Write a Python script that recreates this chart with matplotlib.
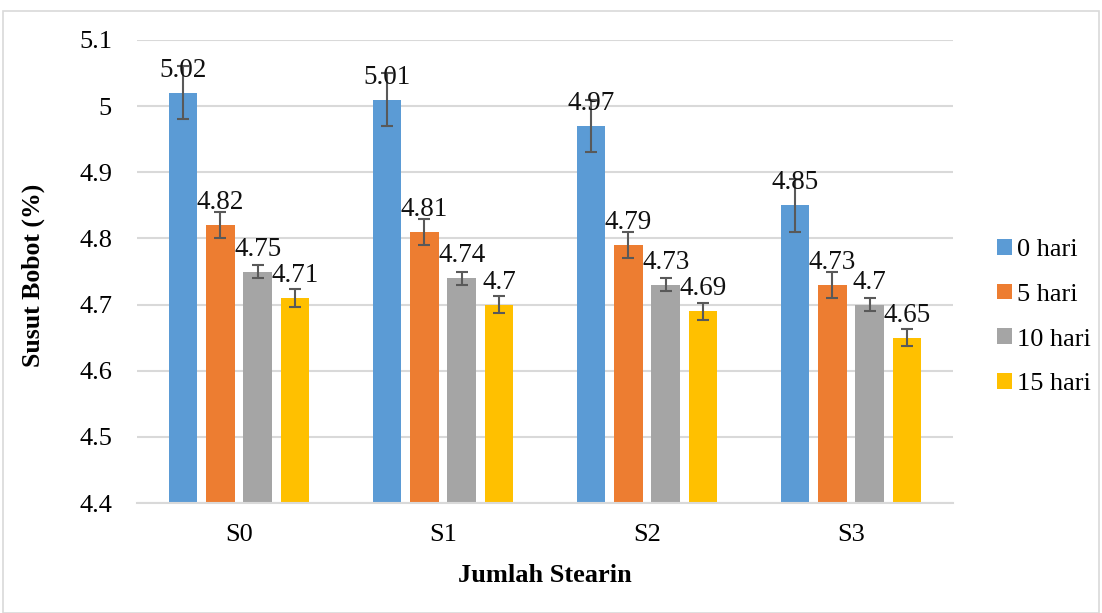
import matplotlib
matplotlib.use("Agg")
import matplotlib.pyplot as plt
import numpy as np
from matplotlib.patches import Rectangle, Patch

categories = ["S0", "S1", "S2", "S3"]
series_names = ["0 hari", "5 hari", "10 hari", "15 hari"]
values_0 = [5.02, 5.01, 4.97, 4.85]
values_5 = [4.82, 4.81, 4.79, 4.73]
values_10 = [4.75, 4.74, 4.73, 4.70]
values_15 = [4.71, 4.70, 4.69, 4.65]
err_0 = [0.04, 0.04, 0.04, 0.04]
err_5 = [0.02, 0.02, 0.02, 0.02]
err_10 = [0.01, 0.01, 0.01, 0.01]
err_15 = [0.013, 0.013, 0.013, 0.013]
label_0 = ["5.02", "5.01", "4.97", "4.85"]
label_5 = ["4.82", "4.81", "4.79", "4.73"]
label_10 = ["4.75", "4.74", "4.73", "4.7"]
label_15 = ["4.71", "4.7", "4.69", "4.65"]
yticks = [4.4, 4.5, 4.6, 4.7, 4.8, 4.9, 5.0, 5.1]
ytick_labels = ["4.4", "4.5", "4.6", "4.7", "4.8", "4.9", "5", "5.1"]

colors = ["#5B9BD5", "#ED7D31", "#A5A5A5", "#FFC000"]
plt.rcParams['font.family'] = ['Liberation Serif', 'DejaVu Serif']

W, H = 1102, 613
fig = plt.figure(figsize=(W / 100, H / 100), dpi=100)
ax = fig.add_axes([137 / W, 1 - 503 / H, (953 - 137) / W, (503 - 40) / H])

# outer border
fig.patches.append(Rectangle((3 / W, 0), (1099 - 3) / W, 1 - 11 / H, transform=fig.transFigure,
                             fill=False, edgecolor="#D9D9D9", linewidth=1.2))

x = np.arange(len(categories))
bw = 0.142
step = 0.183
all_vals = [values_0, values_5, values_10, values_15]
all_err = [err_0, err_5, err_10, err_15]
all_lab = [label_0, label_5, label_10, label_15]
for i, (vals, errs, labs) in enumerate(zip(all_vals, all_err, all_lab)):
    pos = x + (i - 1.5) * step
    ax.bar(pos, np.array(vals) - 4.4, bw, bottom=4.4, color=colors[i], zorder=2)
    ax.errorbar(pos, vals, yerr=errs, fmt="none", ecolor="#595959", elinewidth=1.5,
                capsize=4.3, capthick=1.5, zorder=3)
    for p, v, t in zip(pos, vals, labs):
        ax.annotate(t, (p, v), xytext=(0, 11.5), textcoords="offset points",
                    ha="center", va="baseline", fontsize=19.5, color="#111111", zorder=4)

ax.set_xlim(-0.5, 3.5)
ax.set_ylim(4.4, 5.1)
ax.set_yticks(yticks)
ax.set_yticklabels(ytick_labels, fontsize=19)
ax.set_xticks(x)
ax.set_xticklabels(categories, fontsize=19)
ax.tick_params(axis="both", length=0)
ax.tick_params(axis="y", pad=18)
ax.tick_params(axis="x", pad=15)
ax.grid(axis="y", color="#D9D9D9", linewidth=1.5, zorder=0)
ax.set_axisbelow(True)
for s in ["top", "right", "left"]:
    ax.spines[s].set_visible(False)
ax.spines["bottom"].set_color("#D9D9D9")
ax.spines["bottom"].set_linewidth(1.5)

fig.text(545 / W, 1 - 575 / H, "Jumlah Stearin", ha="center", va="center",
         fontsize=19, fontweight="bold")
fig.text(33 / W, 1 - 275 / H, "Susut Bobot (%)", ha="center", va="center",
         rotation=90, fontsize=18.5, fontweight="bold")

handles = [Patch(facecolor=c, edgecolor="none") for c in colors]
fig.legend(handles, series_names, loc="center left", bbox_to_anchor=(984 / W, 1 - 317 / H),
           frameon=False, fontsize=19, handlelength=0.55, handleheight=0.55,
           handletextpad=0.2, labelspacing=0.85, borderpad=0)

fig.savefig("out.png", dpi=100)
